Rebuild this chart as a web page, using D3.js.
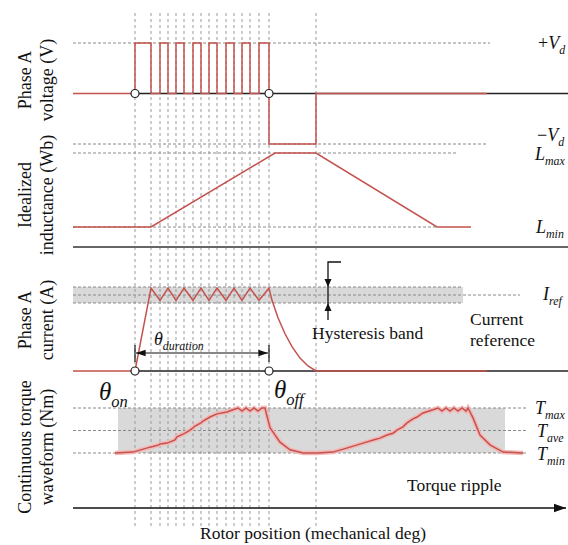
<!DOCTYPE html>
<html><head><meta charset="utf-8">
<script src="https://cdn.jsdelivr.net/npm/d3@7/dist/d3.min.js"></script>
<style>body{margin:0;background:#fff}svg{display:block}</style>
</head><body>
<svg id="c" width="568" height="545" font-family="'Liberation Serif', 'Times New Roman', Times, 'DejaVu Serif', serif"></svg>
<script>
// ---------- data (rotor position, arbitrary mechanical units, theta_on = 0) ----------
const thetaOn = 0, thetaOff = 134, thetaNeg = 181;
const gridPositions = [0,16,25,33,41,49,58,66,74,82,91,99,107,115,124,134,181];
const pulseOn  = [0,25,41,58,74,91,107,124];
const pulseOff = [16,33,49,66,82,99,115,134];
const inductanceX = [-62,16,140,181,302,336];
const inductanceY = [0,0,1,1,0,0];            // 0 = Lmin, 1 = Lmax
const currentX = [-62,0,16,25,33,41,49,58,66,74,82,91,99,107,115,124,134,137,143,150,157,165,173,181,352];
const currentY = [0,0,1.09,0.93,1.09,0.93,1.09,0.93,1.09,0.93,1.09,0.93,1.09,0.93,1.09,0.93,1.09,0.93,0.70,0.49,0.32,0.17,0.066,0,0];
const hystBand = [0.895, 1.105];               // Iref = 1
const torqueX = [-20,-2,15,24,25,32,40,42,48,50,55,58,60,66,68,75,82,92,98,103,107,111,115,119,123,127,130,135,145,155,168,182,
                 198,215,228,240,245,252,258,262,268,272,278,282,288,298,303,307,311,315,319,323,327,331,333,338,345,355,368,388];
const torqueY = [0,0.02,0.13,0.18,0.20,0.22,0.29,0.36,0.42,0.44,0.51,0.56,0.60,0.67,0.71,0.80,0.87,0.91,0.96,1.0,0.93,1.0,0.93,1.0,0.93,1.0,1.0,0.56,0.24,0.07,0,0,
                 0.02,0.13,0.22,0.30,0.33,0.40,0.44,0.51,0.58,0.67,0.76,0.80,0.89,0.96,1.0,0.93,1.0,0.93,1.0,0.93,1.0,0.93,1.0,0.78,0.40,0.18,0.02,0];
const torqueBand = [-17, 370];
const panelLabels = [["Phase A","voltage (V)"],["Idealized","inductance (Wb)"],["Phase A","current (A)"],["Continuous torque","waveform (Nm)"]];

// ---------- scales ----------
const svg = d3.select("#c");
const x = d3.scaleLinear().domain([-62, 433]).range([73, 568]);
const yV = d3.scaleLinear().domain([-1, 1]).range([144, 43]);
const yL = d3.scaleLinear().domain([0, 1]).range([227, 153]);
const yI = d3.scaleLinear().domain([0, 1]).range([371, 295]);
const yT = d3.scaleLinear().domain([0, 1]).range([453, 408]);
const RED = "#c4524f", DASH = "#8a8a8a";

const defs = svg.append("defs");
defs.append("marker").attr("id","ah").attr("viewBox","0 0 10 10").attr("refX",10).attr("refY",5)
  .attr("markerWidth",8).attr("markerHeight",8).attr("orient","auto-start-reverse")
  .append("path").attr("d","M0,1.5L10,5L0,8.5Z").attr("fill","#111");

function hline(y, x0, x1, opts={}) {
  return svg.append("line").attr("x1",x0).attr("x2",x1).attr("y1",y).attr("y2",y)
    .attr("stroke",opts.color||DASH).attr("stroke-width",opts.w||1)
    .attr("stroke-dasharray",opts.dash===undefined?"3,2":opts.dash);
}

// ---------- bands ----------
svg.append("rect").attr("x",x(-62)).attr("width",x(328)-x(-62))
  .attr("y",yI(hystBand[1])).attr("height",yI(hystBand[0])-yI(hystBand[1])).attr("fill","#d9d9d9");
svg.append("rect").attr("x",x(torqueBand[0])).attr("width",x(torqueBand[1])-x(torqueBand[0]))
  .attr("y",yT(1)).attr("height",yT(0)-yT(1)).attr("fill","#d9d9d9");

// ---------- horizontal dashed references ----------
hline(yV(1), x(-62), x(355));
hline(yV(-1), x(-62), x(353));
hline(yL(1), x(-62), x(322));
hline(yL(0), x(-62), x(302));
hline(yI(hystBand[1]), x(-62), x(328));
hline(yI(hystBand[0]), x(-62), x(328));
hline(yI(1), x(-62), x(385));
[1,0.5,0].forEach(v => hline(yT(v), x(-62), x(391)));

// ---------- vertical grid ----------
svg.selectAll("line.grid").data(gridPositions).join("line").attr("class","grid")
  .attr("x1",d=>x(d)).attr("x2",d=>x(d)).attr("y1",13).attr("y2",528)
  .attr("stroke","#9a9a9a").attr("stroke-width",1).attr("stroke-dasharray","3,3");

// ---------- axes lines ----------
hline(yV(0), x(thetaOn), 568, {color:"#222", w:1.5, dash:"none"});
hline(247, x(-62), 568, {color:"#666", w:2, dash:"none"});
hline(yI(0), x(thetaOn), 568, {color:"#222", w:1.5, dash:"none"});
hline(508, x(-62), 566, {color:"#111", w:1.5, dash:"none"}).attr("marker-end","url(#ah)");

// ---------- voltage ----------
const vPts = [[-62,0]];
pulseOn.forEach((on,i)=>{ vPts.push([on,0],[on,1],[pulseOff[i],1]); if(i<pulseOn.length-1) vPts.push([pulseOff[i],0]); });
vPts.push([thetaOff,-1],[thetaNeg,-1],[thetaNeg,0],[352,0]);
const line = (ys)=> d3.line().x(d=>x(d[0])).y(d=>ys(d[1]));
svg.append("path").attr("d",line(yV)(vPts)).attr("fill","none").attr("stroke",RED).attr("stroke-width",1.5);

// ---------- inductance ----------
svg.append("path").attr("d",line(yL)(inductanceX.map((d,i)=>[d,inductanceY[i]])))
  .attr("fill","none").attr("stroke",RED).attr("stroke-width",1.5);

// ---------- current ----------
svg.append("path").attr("d",line(yI)(currentX.map((d,i)=>[d,currentY[i]])))
  .attr("fill","none").attr("stroke",RED).attr("stroke-width",1.5);

// ---------- torque ----------
const tData = torqueX.map((d,i)=>[d,torqueY[i]]);
svg.append("path").attr("d",line(yT)(tData)).attr("fill","none").attr("stroke","#f2b9b7").attr("stroke-width",4.5);
svg.append("path").attr("d",line(yT)(tData)).attr("fill","none").attr("stroke",RED).attr("stroke-width",1.5);

// ---------- circles ----------
[[thetaOn,yV(0)],[thetaOff,yV(0)],[thetaOn,yI(0)],[thetaOff,yI(0)]].forEach(p=>{
  svg.append("circle").attr("cx",x(p[0])).attr("cy",p[1]).attr("r",4)
    .attr("fill","#fff").attr("stroke","#222").attr("stroke-width",1.2);
});

// ---------- theta_duration arrow ----------
[thetaOn,thetaOff].forEach(t=>svg.append("line").attr("x1",x(t)).attr("x2",x(t)).attr("y1",345).attr("y2",362).attr("stroke","#111").attr("stroke-width",1.2));
svg.append("line").attr("x1",x(thetaOn)+1).attr("x2",x(thetaOff)-1).attr("y1",353).attr("y2",353)
  .attr("stroke","#111").attr("stroke-width",1.2).attr("marker-start","url(#ah)").attr("marker-end","url(#ah)");

// ---------- hysteresis marker ----------
const hx = 328;
svg.append("path").attr("d",`M${hx+13},262H${hx}V320`).attr("fill","none").attr("stroke","#111").attr("stroke-width",1.3);
svg.append("path").attr("d",`M${hx-3.5},${yI(hystBand[1])-8}L${hx+3.5},${yI(hystBand[1])-8}L${hx},${yI(hystBand[1])}Z`).attr("fill","#111");
svg.append("path").attr("d",`M${hx-3.5},${yI(hystBand[0])+8}L${hx+3.5},${yI(hystBand[0])+8}L${hx},${yI(hystBand[0])}Z`).attr("fill","#111");

// ---------- text ----------
function txt(xp, yp, s, size) {
  return svg.append("text").attr("x",xp).attr("y",yp).attr("font-size",size).attr("fill","#111").text(s);
}
function sub(xp, yp, main, s, size, opt={}) {
  const t = svg.append("text").attr("x",xp).attr("y",yp).attr("font-size",size).attr("font-style","italic").attr("fill","#111");
  if (opt.pre) t.append("tspan").attr("font-style","normal").text(opt.pre);
  t.append("tspan").text(main);
  t.append("tspan").attr("font-size",size*0.66).attr("dy",size*0.28).text(s);
  return t;
}
sub(538,49,"V","d",18,{pre:"+"});
sub(537,141,"V","d",18,{pre:"−"});
sub(535,160,"L","max",18);
sub(536,233,"L","min",18);
sub(543,300,"I","ref",18);
sub(535,414,"T","max",18);
sub(537,437,"T","ave",18);
sub(537,460,"T","min",18);
sub(154,345,"θ","duration",18);
sub(99,400,"θ","on",25);
sub(274,398,"θ","off",25);

txt(312,339,"Hysteresis band",17.5);
txt(470,325,"Current",17.5);
txt(470,346,"reference",17.5);
txt(407,491,"Torque ripple",17.5);
txt(313,539,"Rotor position (mechanical deg)",17.5).attr("text-anchor","middle");

const labelY = [80, 195, 320, 447];
panelLabels.forEach((ls,i)=>{
  ls.forEach((s,j)=>{
    svg.append("text").attr("transform",`translate(${31+j*22},${labelY[i]}) rotate(-90)`)
      .attr("text-anchor","middle").attr("font-size",18).attr("fill","#111").text(s);
  });
});
</script>
</body></html>
